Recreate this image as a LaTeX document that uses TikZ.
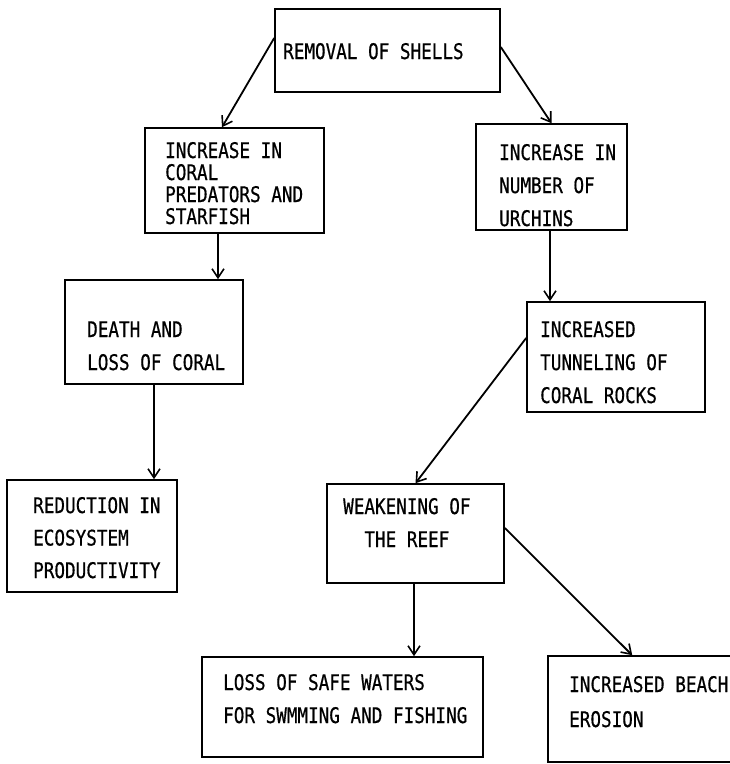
\documentclass[tikz,border=0pt]{standalone}
\usepackage{fontspec}
\usetikzlibrary{arrows.meta,fit,calc}
\newfontfamily\twfont{DejaVu Sans Mono}[FakeStretch=0.82,FakeBold=0.6]
\tikzset{
  box/.style={draw, line width=1.6pt, inner sep=0pt},
  lbl/.style={inner sep=0pt, anchor=base west, align=left, font={\twfont\fontsize{21.5pt}{#1}\selectfont}},
  lbl/.default=33pt,
  arr/.style={line width=1.8pt, -{Straight Barb[length=9pt,width=12pt,line width=1.6pt]}}
}
\begin{document}
\begin{tikzpicture}[x=1pt,y=-1pt]
\useasboundingbox (0,0) rectangle (730,764);
\clip (0,0) rectangle (730,764);
% boxes
\node[box, fit={(275,9) (500,92)}] (rem) {};
\node[box, fit={(145,128) (324,233)}] (pred) {};
\node[box, fit={(476,124) (627,230)}] (urch) {};
\node[box, fit={(65,280) (243,384)}] (death) {};
\node[box, fit={(527,302) (705,412)}] (tunn) {};
\node[box, fit={(7,480) (177,592)}] (red) {};
\node[box, fit={(327,484) (504,583)}] (weak) {};
\node[box, fit={(202,657) (483,757)}] (loss) {};
\node[box, fit={(548,656) (745,762)}] (beach) {};
% texts (anchored at the baseline of the last line)
\node[lbl] (trem) at (283,59) {REMOVAL OF SHELLS};
\node[lbl=22pt] (tpred) at (165,224) {INCREASE IN\\CORAL\\PREDATORS AND\\STARFISH};
\node[lbl=33pt] (turch) at (499,226) {INCREASE IN\\NUMBER OF\\URCHINS};
\node[lbl=33pt] (tdeath) at (87,370) {DEATH AND\\LOSS OF CORAL};
\node[lbl=33pt] (ttunn) at (540,403) {INCREASED\\TUNNELING OF\\CORAL ROCKS};
\node[lbl=32.5pt] (tred) at (33,578) {REDUCTION IN\\ECOSYSTEM\\PRODUCTIVITY};
\node[lbl=33pt, align=center] (tweak) at (343,547) {WEAKENING OF\\THE REEF};
\node[lbl=33pt] (tloss) at (223,723) {LOSS OF SAFE WATERS\\FOR SWMMING AND FISHING};
\node[lbl=35pt] (tbeach) at (569,727) {INCREASED BEACH\\EROSION};
% connectors
\coordinate (a1) at ([yshift=12.5pt]rem.west);
\coordinate (a2) at ([xshift=-12.5pt]pred.north);
\draw[arr] (a1) -- (a2);
\coordinate (b1) at ([yshift=3.5pt]rem.east);
\draw[arr] (b1) -- (urch.north);
\coordinate (c1) at ([xshift=-16.5pt]pred.south);
\draw[arr] (c1) -- (c1 |- death.north);
\coordinate (u1) at ([xshift=-1.5pt]urch.south);
\draw[arr] (u1) -- (u1 |- tunn.north);
\draw[arr] (death.south) -- (death.south |- red.north);
\coordinate (d1) at ([yshift=19pt]tunn.west);
\draw[arr] (d1) -- (weak.north);
\coordinate (w1) at ([xshift=-1.5pt]weak.south);
\draw[arr] (w1) -- (w1 |- loss.north);
\coordinate (e1) at ([yshift=5.5pt]weak.east);
\coordinate (e2) at ([xshift=85pt]beach.north west);
\draw[arr] (e1) -- (e2);
\end{tikzpicture}
\end{document}
